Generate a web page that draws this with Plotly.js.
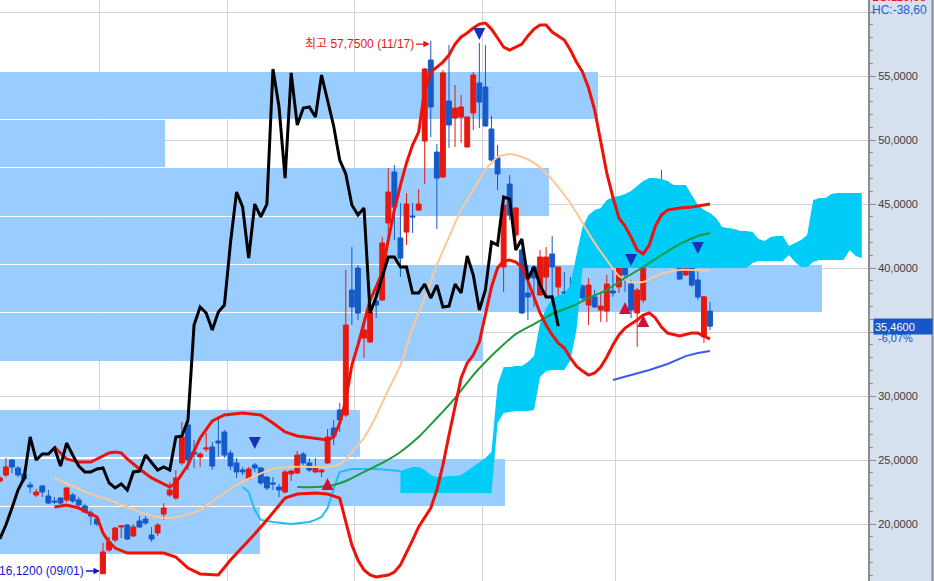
<!DOCTYPE html>
<html><head><meta charset="utf-8">
<script src="https://cdn.plot.ly/plotly-3.0.1.min.js"></script>
<style>html,body{margin:0;padding:0;background:#fff;}#chart{width:934px;height:581px;}</style>
</head><body><div id="chart"></div>
<script>
// ---- daily candles (index 0..117) ----
const openP = [
23.36,23.83,25.00,24.38,23.91,23.05,22.27,22.97,22.19,21.80,
22.03,21.88,22.27,21.88,21.41,20.86,20.39,16.12,17.97,18.75,
19.77,19.92,19.07,20.24,20.39,19.14,19.30,20.78,22.27,22.03,
24.77,27.74,25.63,25.24,25.86,26.02,26.49,27.19,25.55,24.77,
24.22,23.52,24.61,24.38,23.67,23.21,22.89,22.50,23.91,23.99,
25.47,24.77,24.07,24.07,24.77,27.50,28.91,28.52,38.28,40.00,
34.53,34.22,37.42,37.50,43.52,47.50,42.35,42.81,44.06,44.53,
49.92,56.25,49.06,47.11,53.05,51.72,51.80,49.46,52.11,54.46,
54.14,50.86,48.60,40.08,46.56,42.58,41.41,38.05,40.08,37.89,
39.30,41.10,38.52,38.13,38.28,37.89,38.60,37.11,37.74,36.72,
36.64,38.21,38.52,40.78,38.75,36.49,37.50,40.63,41.80,45.86,
45.86,40.94,40.78,39.46,41.57,39.07,34.61,36.64];
const highP = [
23.75,25.16,25.08,24.53,24.30,23.28,22.74,23.05,22.66,22.11,
22.11,22.89,22.42,22.11,21.57,21.10,20.63,18.52,18.99,19.77,
19.92,20.00,20.00,20.63,20.63,19.77,20.08,21.64,23.28,24.22,
27.97,27.97,26.56,25.63,27.11,26.41,28.36,27.35,25.78,25.16,
24.46,24.46,24.77,24.46,23.75,23.67,23.13,24.22,24.22,25.71,
25.63,25.16,25.16,24.30,27.42,28.13,29.46,39.85,41.64,40.24,
35.71,36.72,38.28,42.42,47.81,48.05,45.08,45.86,45.08,46.17,
55.62,57.75,49.69,55.47,57.42,54.30,53.52,51.80,55.31,57.58,
57.42,51.88,49.61,45.55,47.27,44.77,41.57,40.24,40.24,41.41,
41.64,42.50,40.08,39.69,39.30,40.24,38.75,39.22,38.28,38.13,
39.46,39.85,41.72,41.33,39.07,38.44,43.36,43.21,45.86,47.66,
46.41,43.13,41.49,42.42,42.97,39.85,37.82,37.35];
const lowP = [
23.21,23.67,23.99,23.67,23.28,22.42,22.11,22.11,21.57,21.57,
21.57,21.72,21.64,21.33,20.86,19.92,19.85,16.12,17.82,18.60,
18.91,18.75,18.99,19.69,19.92,18.60,19.07,20.32,22.11,21.88,
24.61,24.22,24.38,24.46,25.63,24.22,25.24,25.16,24.22,23.60,
23.83,23.44,24.07,23.05,22.66,22.66,22.11,22.42,23.36,23.91,
24.61,24.07,23.99,23.67,24.69,26.17,27.19,28.36,35.55,35.94,
32.97,34.14,36.10,37.42,41.96,42.19,39.30,41.80,42.74,44.46,
46.56,50.24,43.05,47.03,49.38,49.46,49.77,49.38,50.78,50.94,
51.02,48.21,46.10,38.13,43.75,41.64,36.41,35.94,36.96,37.82,
37.89,37.74,36.49,36.17,36.49,37.74,37.50,35.55,36.88,35.78,
35.78,37.74,38.05,38.13,36.10,33.83,37.27,40.55,41.72,42.81,
41.25,40.86,39.07,39.38,38.52,37.50,34.14,35.16];
const closeP = [
23.60,24.46,24.46,23.83,23.52,22.89,22.50,22.50,21.64,21.72,
21.64,22.82,21.80,21.49,20.94,20.63,20.00,17.82,18.60,19.69,
19.85,18.83,19.77,19.77,20.08,18.83,19.92,21.25,22.66,23.60,
26.80,25.00,25.47,25.47,25.94,24.53,26.33,25.39,24.53,24.07,
24.07,24.30,24.38,23.21,22.82,23.13,22.66,24.07,24.14,25.39,
24.77,24.22,24.46,24.22,26.80,26.88,28.13,35.55,36.96,36.49,
35.16,36.56,37.11,41.96,45.94,44.77,40.78,45.00,43.99,45.00,
55.55,52.58,47.03,55.24,51.17,52.50,52.58,51.80,55.08,52.97,
51.10,48.44,47.35,44.92,44.14,44.69,36.49,37.74,39.22,40.86,
40.86,40.08,40.08,38.05,38.05,38.75,37.66,38.67,36.96,37.03,
38.75,38.05,40.94,39.46,36.72,38.28,42.03,41.80,45.55,45.39,
41.41,42.27,39.14,40.08,38.67,37.74,37.75,35.46];

// ---- indicator lines (candle index, value) ----
const maIdx = [9,12,15,18,21,24,27,30,33,36,39,42,45,48,51,54,56,57,58,60,62,64,66,68,70,72,74,76,78,80,82,84,86,88,90,92,94,96,98,100,102,104,106,108,110,112,114,117];
const maVal = [23.60,22.97,22.34,21.88,21.33,20.78,20.47,20.63,21.10,22.11,23.05,23.75,24.30,24.46,24.46,24.46,24.69,25.08,25.63,26.72,28.44,30.47,32.42,35.31,37.66,40.24,42.42,44.53,46.10,47.66,48.67,48.91,48.67,48.21,47.42,46.33,45.08,43.52,41.96,40.63,39.38,38.91,38.91,39.38,39.69,39.85,39.85,39.77];
const ma2Idx = [49,52,55,57,60,63,66,69,72,75,78,80,82,85,88,91,94,97,100,103,106,109,112,115,117];
const ma2Val = [22.89,22.89,23.05,23.36,24.07,24.77,25.63,26.80,28.28,29.84,31.64,32.66,33.59,34.84,35.62,36.41,36.96,37.66,38.28,39.22,40.08,41.02,41.87,42.50,42.74];
const ma3Idx = [101,104,107,110,113,115,117];
const ma3Val = [31.25,31.64,32.03,32.50,33.12,33.36,33.52];
const spanIdx = [40,41,42,43,45,48,51,52,53,54,55,56,58,62,66];
const spanVal = [22.89,22.50,21.10,20.32,20.16,20.00,20.16,20.32,20.55,21.25,22.74,24.07,24.30,24.30,24.14];

const bbUpIdx = [9,10,11,13,15,16,18,19,20,21,23,25,27,28,29,31,32,33,35,37,40,43,45,47,49,52,54,55,56,57,
58,59,60,61,62,63,64,65,66,67,68,69,70,71,72,73,74,75,76,77,78,79,80,81,82,83,84,85,86,87,
88,89,90,91,92,93,94,95,96,97,98,99,100,101,102,103,104,105,106,107,108,109,110,112,114,117];
const bbUpVal = [26.02,25.55,25.08,24.84,24.84,25.08,25.55,25.63,25.55,25.08,
24.30,23.60,23.13,22.89,23.21,24.61,25.71,26.72,28.05,28.52,
28.67,28.52,27.89,27.19,26.88,26.72,26.56,26.80,27.89,29.69,
32.42,33.98,35.78,37.50,38.52,39.69,42.19,44.53,46.48,48.21,
49.61,50.62,53.91,55.31,55.70,56.09,56.64,57.50,58.05,58.36,
58.75,59.06,59.14,58.67,57.97,57.27,57.03,57.27,57.50,58.13,
58.67,58.98,58.98,58.44,58.13,57.81,57.03,56.09,55.31,54.06,
52.34,49.84,47.42,45.55,43.91,43.28,42.42,41.41,41.10,41.80,
43.28,44.14,44.53,44.69,44.77,45.00];
const bbLoIdx = [9,11,13,16,17,18,19,21,24,27,29,31,33,36,38,40,42,44,46,47,
49,52,54,56,57,58,59,60,61,62,64,65,66,67,68,69,70,71,72,73,
74,75,76,77,78,79,80,81,82,83,84,85,86,87,88,89,90,91,92,93,
94,95,96,97,98,99,100,101,102,103,104,105,106,107,108,109,110,112,114,115,116,117];
const bbLoVal = [21.33,21.49,21.25,20.55,19.30,18.60,18.12,17.73,17.73,17.73,
17.42,16.56,16.10,16.02,17.19,18.20,19.22,20.32,21.49,22.03,
22.34,22.42,22.34,22.03,20.16,18.36,17.19,16.41,16.02,15.86,
16.02,16.25,16.80,17.73,18.75,19.77,20.47,21.25,22.66,24.61,
26.95,29.30,31.41,32.58,33.20,34.22,36.33,38.52,40.00,40.55,
40.63,40.47,40.08,38.99,37.74,36.49,35.55,34.77,34.14,33.75,
32.97,32.34,31.95,31.64,31.80,32.27,33.05,33.98,34.77,35.31,
35.63,35.94,36.33,36.49,36.10,35.39,34.92,34.69,34.92,34.92,
34.69,34.45];

// ---- cloud (index 66..142) ----
const cloudStart = 66;
const cloudTop = [24.14,24.30,24.46,24.46,24.22,23.83,23.67,23.67,23.75,23.75,23.83,24.14,24.46,24.77,25.16,25.63,
30.86,32.27,32.27,32.34,32.34,32.66,33.13,
35.71,36.88,37.58,37.89,37.97,38.67,
41.02,43.21,44.14,44.53,44.69,
45.31,45.55,45.63,45.78,46.02,
46.41,46.80,47.03,47.03,46.95,
46.80,46.48,46.48,46.48,45.70,
44.92,44.53,44.30,43.91,43.21,
43.13,43.05,42.89,42.89,42.81,
42.27,42.11,42.42,42.50,42.50,
41.72,41.96,42.19,42.58,45.31,
45.47,45.47,45.78,45.86,45.86,
45.86,45.86,45.86];
const cloudBottom = [22.42,22.42,22.42,22.42,22.42,22.42,22.42,22.42,22.42,22.42,22.42,22.42,22.42,22.42,22.42,22.42,
27.89,28.67,28.75,28.83,28.83,28.83,28.91,
31.48,31.95,32.03,32.03,32.03,32.81,
35.16,
40.00,40.00,40.00,40.00,40.00,40.00,40.00,40.00,40.00,40.00,40.00,40.00,40.00,40.00,
40.00,40.00,40.00,40.00,40.00,40.00,40.00,40.00,40.00,40.00,40.00,40.00,40.00,40.00,
40.39,40.55,40.55,40.55,40.55,40.55,
41.02,40.47,40.08,40.08,40.47,
40.63,40.63,40.63,40.63,40.63,
41.41,40.94,40.78];

// ---- volume by price ----
const vpPrice = [19.49,23.25,27.08,30.82,34.61,38.40,42.15,45.94,49.73,53.48];
const vpVolume = [260,505,360,0,483,822,400,549,165,598];

// ---- signals ----
const downIdx = [42,79,104,115];
const downVal = [25.86,57.81,40.16,41.10];
const upIdx = [54,103,106];
const upVal = [23.60,37.35,36.33];

const monthStarts = [16.5,37.5,58.5,79.5,101.5];
const priceTicks = [20,25,30,35,40,45,50,55,60];
const priceTickText = priceTicks.map(v => (v===35||v===60) ? '' : v.toFixed(4).replace('.', ','));

const idx = closeP.map((_, i) => i);
const lagIdx = idx.slice(25).map(i => i - 25);
const lagVal = closeP.slice(25);
const cloudIdx = cloudTop.map((_, k) => cloudStart + k);

const RED = '#e8180f', BLUE = '#165ac8';
const L = (x, y, color, width, shape) => ({type:'scatter', mode:'lines', x, y, xaxis:'x2', yaxis:'y',
  line:{color, width, shape: shape||'linear', smoothing:0.6}, hoverinfo:'skip'});

const traces = [
  {type:'bar', orientation:'h', x:vpVolume, y:vpPrice, width:3.68, xaxis:'x', yaxis:'y',
   marker:{color:'#99ccff', line:{width:0}}, hoverinfo:'skip'},
  {type:'scatter', mode:'lines', x:cloudIdx, y:cloudBottom, xaxis:'x2', yaxis:'y', line:{width:0, color:'#00ccf8'}, hoverinfo:'skip'},
  {type:'scatter', mode:'lines', x:cloudIdx, y:cloudTop, xaxis:'x2', yaxis:'y', fill:'tonexty', fillcolor:'#00ccf8', line:{width:0, color:'#00ccf8'}, hoverinfo:'skip'},
  L(spanIdx, spanVal, '#22bdf0', 2),
  L(maIdx, maVal, '#fcc896', 2, 'spline'),
  L(ma2Idx, ma2Val, '#1c9a3c', 2, 'spline'),
  L(ma3Idx, ma3Val, '#3a5af0', 2),
  L(bbLoIdx, bbLoVal, '#ee1208', 3),
  L(bbUpIdx, bbUpVal, '#ee1208', 3),
  L(lagIdx, lagVal, '#000000', 3),
  {type:'candlestick', x:idx, open:openP, high:highP, low:lowP, close:closeP, xaxis:'x2', yaxis:'y',
   increasing:{line:{color:RED, width:1}, fillcolor:RED},
   decreasing:{line:{color:BLUE, width:1}, fillcolor:BLUE},
   whiskerwidth:0, hoverinfo:'skip'},
  {type:'scatter', mode:'markers', x:downIdx, y:downVal, xaxis:'x2', yaxis:'y',
   marker:{symbol:'arrow-down', size:12, color:'#1a2fb8', line:{width:0}}, hoverinfo:'skip'},
  {type:'scatter', mode:'markers', x:upIdx, y:upVal, xaxis:'x2', yaxis:'y',
   marker:{symbol:'arrow-up', size:12, color:'#d0103c', line:{width:0}}, hoverinfo:'skip'}
];

const FONT = 'Liberation Sans, Arial, Noto Sans CJK KR, sans-serif';
const layout = {
  width:934, height:581, margin:{l:0, r:66, t:0, b:0, pad:0},
  paper_bgcolor:'#d6e0ee', plot_bgcolor:'#ffffff',
  showlegend:false, hovermode:false, bargap:0, boxgap:0.2, boxgroupgap:0,
  xaxis:{range:[0,868], visible:false, fixedrange:true},
  xaxis2:{overlaying:'x', range:[0.03,143.03], tickmode:'array', tickvals:monthStarts,
          showticklabels:false, ticks:'', showgrid:true, gridcolor:'#d4d4d4', gridwidth:1,
          zeroline:false, showline:false, rangeslider:{visible:false}, fixedrange:true},
  yaxis:{side:'right', range:[15.55,60.94], tickmode:'array', tickvals:priceTicks, ticktext:priceTickText,
         showgrid:true, gridcolor:'#d4d4d4', gridwidth:1, zeroline:false,
         showline:true, linecolor:'#8c8c8c', linewidth:2,
         ticks:'outside', ticklen:6, tickcolor:'#8c8c8c', tickwidth:1,
         minor:{tickmode:'linear', tick0:0, dtick:1, ticks:'outside', ticklen:3, tickcolor:'#8c8c8c', showgrid:false},
         tickfont:{family:FONT, size:11, color:'#3c3c3c'}, fixedrange:true},
  shapes:[
    {type:'line', xref:'paper', yref:'paper', x0:1.0743, x1:1.0743, y0:0, y1:1, line:{color:'#8c8c8c', width:2}}
  ],
  annotations:[
    {xref:'x2', yref:'y', x:70.85, y:57.5, text:'최고 57,7500 (11/17)', showarrow:true, ax:-14, ay:0,
     xanchor:'right', arrowhead:2, arrowsize:1, arrowwidth:1.3, arrowcolor:RED, standoff:0,
     font:{family:FONT, size:12, color:RED}},
    {xref:'x2', yref:'y', x:16.5, y:16.33, text:'16,1200 (09/01)', showarrow:true, ax:-14, ay:0,
     xanchor:'right', arrowhead:2, arrowsize:1, arrowwidth:1.3, arrowcolor:'#1414d2', standoff:0,
     font:{family:FONT, size:12, color:'#1414d2'}},
    {xref:'paper', yref:'paper', x:870/868, y:1.0052, xanchor:'left', yanchor:'middle', showarrow:false,
     text:'LC:119,98', font:{family:FONT, size:12, color:RED}},
    {xref:'paper', yref:'paper', x:870/868, y:1-10/581, xanchor:'left', yanchor:'middle', showarrow:false,
     text:'HC:-38,60', font:{family:FONT, size:12, color:'#1a5fd0'}},
    {xref:'paper', yref:'y', x:873/868, y:35.46, xanchor:'left', yanchor:'middle', showarrow:false,
     text:'35,4600', bgcolor:'#1556c8', width:56, height:13, align:'left', borderpad:1,
     font:{family:FONT, size:11, color:'#ffffff'}},
    {xref:'paper', yref:'y', x:876/868, y:34.53, xanchor:'left', yanchor:'middle', showarrow:false,
     text:'-6,07%', font:{family:FONT, size:11, color:'#1556c8'}}
  ]
};

Plotly.newPlot('chart', traces, layout, {staticPlot:true, displayModeBar:false});
</script>
</body></html>
